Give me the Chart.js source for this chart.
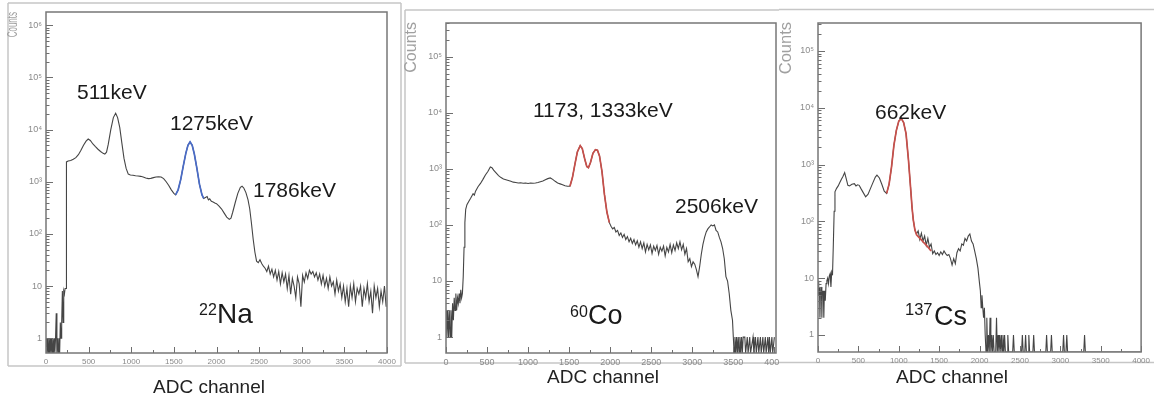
<!DOCTYPE html>
<html>
<head>
<meta charset="utf-8">
<script src="https://cdn.jsdelivr.net/npm/chart.js@4.4.0/dist/chart.umd.min.js"></script>
<style>
  html, body { margin: 0; padding: 0; background: #fff; }
  #stage { position: relative; width: 1154px; height: 399px; overflow: hidden; }
  #stage canvas { position: absolute; left: 0; top: 0; }
</style>
</head>
<body>
<div id="stage">
  <canvas id="na22" width="1154" height="399"></canvas>
  <canvas id="co60" width="1154" height="399"></canvas>
  <canvas id="cs137" width="1154" height="399"></canvas>
</div>
<script>
// 22Na spectrum (ADC channel vs counts, 0 = empty bin)
const na22Channels = [
  0, 8, 16, 24, 32, 40, 48, 56, 64, 72,
  80, 88, 96, 104, 112, 120, 128, 136, 144, 152,
  160, 168, 176, 184, 192, 200, 208, 216, 224, 236,
  240, 260, 290, 320, 350, 380, 410, 440, 470, 495,
  520, 550, 580, 610, 640, 670, 690, 710, 730, 760,
  790, 817, 840, 865, 890, 915, 940, 965, 990, 1020,
  1050, 1080, 1110, 1140, 1170, 1200, 1230, 1260, 1290, 1320,
  1350, 1380, 1410, 1440, 1470, 1500, 1520, 1550, 1580, 1610,
  1640, 1665, 1690, 1715, 1740, 1770, 1800, 1830, 1850, 1870,
  1890, 1905, 1920, 1940, 1960, 1980, 2000, 2030, 2060, 2090,
  2120, 2150, 2170, 2190, 2220, 2250, 2280, 2300, 2320, 2345,
  2370, 2390, 2410, 2430, 2450, 2470, 2490, 2510, 2530, 2550,
  2570, 2590, 2610, 2630, 2650, 2670, 2690, 2710, 2730, 2750,
  2770, 2790, 2810, 2830, 2850, 2870, 2890, 2910, 2930, 2950,
  2970, 2990, 3010, 3030, 3050, 3070, 3090, 3110, 3130, 3150,
  3170, 3190, 3210, 3230, 3250, 3270, 3290, 3310, 3330, 3350,
  3370, 3390, 3410, 3430, 3450, 3470, 3490, 3510, 3530, 3550,
  3570, 3590, 3610, 3630, 3650, 3670, 3690, 3710, 3730, 3750,
  3770, 3790, 3810, 3830, 3850, 3870, 3890, 3910, 3930, 3950,
  3970, 3990
];
const na22Counts = [
  1, 0, 1, 0, 1, 0, 1, 0, 1, 0,
  1, 0, 1, 0, 1, 3, 0, 1, 0, 1,
  0, 2, 1, 2, 8, 2, 8, 7, 9, 9,
  2400, 2500, 2550, 2700, 2900, 3300, 4000, 5000, 6000, 6600,
  6200, 5300, 4700, 4200, 3800, 3500, 3400, 3700, 5200, 10000,
  17000, 20500, 17000, 11000, 5500, 2800, 1800, 1400, 1350, 1330,
  1300, 1290, 1270, 1230, 1180, 1150, 1160, 1200, 1230, 1250,
  1230, 1150, 1000, 850, 700, 600, 560, 700, 1100, 2000,
  3500, 5000, 5800, 5000, 3400, 1800, 900, 560, 480, 500,
  520, 450, 470, 420, 410, 390, 380, 340, 300, 250,
  210, 190, 200, 260, 400, 600, 780, 820, 760, 620,
  450, 300, 160, 80, 45, 30, 28, 32, 27, 24,
  22, 19, 24, 17, 21, 15, 20, 13, 19, 11,
  18, 12, 17, 9, 16, 7, 14, 10, 6, 15,
  11, 4, 16, 12, 18, 14, 20, 17, 19, 15,
  18, 13, 17, 11, 16, 10, 14, 9, 15, 10,
  12, 7, 13, 8, 11, 6, 10, 5, 9, 4,
  10, 6, 11, 5, 9, 7, 10, 4, 9, 6,
  11, 5, 8, 3, 10, 6, 9, 4, 8, 5,
  10, 4
];
const na22FitChannels = [1520, 1550, 1580, 1610, 1640, 1665, 1690, 1715, 1740, 1770, 1800, 1830, 1850];
const na22FitCounts = [560, 700, 1100, 2000, 3500, 5000, 5800, 5000, 3400, 1800, 900, 560, 480];

// 60Co spectrum
const co60Channels = [
  0, 10, 20, 30, 40, 50, 60, 70, 80, 90,
  100, 110, 120, 130, 140, 150, 160, 170, 180, 190,
  200, 210, 220, 230, 240, 255, 275, 300, 330, 345,
  360, 390, 420, 450, 480, 510, 540, 560, 580, 610,
  640, 670, 700, 730, 760, 790, 820, 850, 880, 910,
  940, 970, 1000, 1030, 1060, 1090, 1120, 1150, 1180, 1210,
  1240, 1270, 1300, 1330, 1360, 1390, 1420, 1450, 1480, 1510,
  1540, 1570, 1600, 1635, 1660, 1690, 1715, 1735, 1760, 1790,
  1820, 1845, 1870, 1900, 1930, 1960, 1990, 2010, 2030, 2050,
  2070, 2090, 2110, 2130, 2150, 2170, 2190, 2210, 2230, 2250,
  2270, 2290, 2310, 2330, 2350, 2370, 2390, 2410, 2430, 2450,
  2470, 2490, 2510, 2530, 2550, 2570, 2590, 2610, 2630, 2650,
  2670, 2690, 2710, 2730, 2750, 2770, 2790, 2810, 2830, 2850,
  2870, 2890, 2910, 2930, 2950, 2970, 2990, 3010, 3030, 3050,
  3070, 3090, 3110, 3130, 3150, 3170, 3190, 3210, 3230, 3250,
  3270, 3290, 3310, 3330, 3350, 3370, 3390, 3410, 3430, 3450,
  3470, 3490, 3500, 3510, 3520, 3530, 3540, 3550, 3560, 3570,
  3580, 3590, 3600, 3610, 3620, 3640, 3650, 3670, 3680, 3700,
  3710, 3740, 3750, 3770, 3780, 3800, 3810, 3830, 3840, 3860,
  3870, 3890, 3900, 3920, 3930, 3940, 3950, 3970, 3980, 4000
];
const co60Counts = [
  3, 1, 3, 1, 3, 1, 3, 1, 4, 2,
  5, 3, 6, 3, 5, 4, 6, 4, 7, 5,
  6, 12, 40, 110, 190, 230, 260, 300, 360, 340,
  400, 480, 550, 650, 780, 900, 1080, 1050, 950, 850,
  760, 700, 660, 640, 620, 600, 580, 570, 560, 565,
  555, 560, 550, 560, 555, 560, 570, 590, 610, 640,
  670, 690, 650, 600, 560, 540, 520, 500, 490, 490,
  700, 1200, 2000, 2600, 2300, 1500, 1100, 1050, 1300, 1900,
  2200, 2150, 1700, 900, 350, 170, 110, 95, 85, 90,
  75, 80, 65, 72, 60, 68, 55, 62, 50, 58,
  47, 55, 44, 52, 40, 50, 38, 48, 33, 45,
  36, 44, 31, 42, 35, 43, 30, 40, 34, 42,
  28, 40, 33, 45, 32, 44, 35, 48, 38, 50,
  36, 45, 30, 38, 22, 25, 18, 22, 20, 16,
  12, 18, 30, 45, 60, 75, 85, 92, 100, 96,
  100, 80, 75, 60, 50, 38, 25, 12, 10, 6,
  3, 2, 1, 0, 1, 0, 1, 0, 1, 0,
  1, 0, 1, 0, 1, 1, 0, 1, 0, 1,
  0, 1, 0, 1, 0, 1, 0, 1, 0, 1,
  0, 1, 0, 1, 0, 1, 0, 1, 0, 1
];
const co60FitChannels = [1510, 1540, 1570, 1600, 1635, 1660, 1690, 1715, 1735, 1760, 1790, 1820, 1845, 1870, 1900, 1930, 1960, 1990];
const co60FitCounts = [490, 700, 1200, 2000, 2600, 2300, 1500, 1100, 1050, 1300, 1900, 2200, 2150, 1700, 900, 350, 170, 110];

// 137Cs spectrum
const cs137Channels = [
  0, 6, 12, 18, 24, 30, 36, 42, 48, 54,
  60, 66, 72, 78, 84, 90, 100, 110, 120, 130,
  140, 150, 160, 170, 180, 190, 200, 210, 230, 250,
  270, 290, 310, 330, 350, 370, 390, 420, 450, 470,
  490, 510, 530, 560, 590, 620, 650, 680, 710, 730,
  760, 790, 820, 850, 880, 910, 940, 970, 1000, 1030,
  1060, 1090, 1120, 1150, 1165, 1180, 1200, 1220, 1240, 1260,
  1280, 1300, 1320, 1340, 1360, 1380, 1400, 1420, 1440, 1460,
  1480, 1500, 1520, 1540, 1560, 1580, 1600, 1620, 1640, 1660,
  1680, 1700, 1720, 1740, 1760, 1780, 1800, 1820, 1840, 1860,
  1880, 1900, 1920, 1940, 1960, 1980, 2000, 2010, 2020, 2030,
  2040, 2050, 2060, 2070, 2080, 2090, 2100, 2110, 2120, 2130,
  2140, 2150, 2160, 2170, 2180, 2200, 2210, 2220, 2230, 2240,
  2250, 2260, 2270, 2280, 2290, 2300, 2310, 2320, 2340, 2350,
  2360, 2410, 2420, 2430, 2520, 2530, 2540, 2560, 2570, 2580,
  2600, 2610, 2620, 2660, 2670, 2680, 2820, 2830, 2840, 2880,
  2890, 2900, 3030, 3040, 3050, 3070, 3080, 3090, 3290, 3300,
  3310, 4000
];
const cs137Counts = [
  7, 9, 5, 7, 2, 6, 5, 7, 2, 6,
  5, 6, 2, 5, 6, 4, 8, 9, 10, 8,
  11, 12, 7, 13, 12, 40, 150, 330, 380, 420,
  480, 550, 620, 720, 560, 430, 420, 450, 460, 420,
  440, 430, 380, 320, 270, 300, 380, 480, 600, 650,
  580, 450, 340, 310, 450, 900, 2200, 4000, 5800, 6500,
  5500, 3500, 1200, 330, 170, 105, 70, 60, 68, 48,
  62, 45, 55, 38, 50, 35, 40, 27, 30, 26,
  28, 25, 29, 26, 30, 27, 25, 26, 22, 17,
  22, 18, 28, 33, 30, 40, 38, 50, 45, 55,
  60, 45, 40, 30, 22, 15, 8, 6, 3, 5,
  3, 2, 3, 1, 0, 2, 0, 1, 0, 2,
  0, 1, 0, 1, 0, 0, 2, 0, 1, 0,
  1, 0, 1, 0, 1, 0, 1, 0, 0, 1,
  0, 0, 1, 0, 0, 1, 0, 0, 1, 0,
  0, 1, 0, 0, 1, 0, 0, 1, 0, 0,
  1, 0, 0, 1, 0, 0, 1, 0, 0, 1,
  0, 0
];
const cs137FitChannels = [850, 880, 910, 940, 970, 1000, 1030, 1060, 1090, 1120, 1150, 1165, 1180, 1200, 1220, 1250, 1280, 1310, 1340, 1370, 1400];
const cs137FitCounts = [310, 450, 900, 2200, 4000, 5800, 6500, 5500, 3500, 1200, 330, 170, 105, 70, 58, 52, 47, 42, 38, 34, 30];

const decadeLabels = ["1", "10", "10²", "10³", "10⁴", "10⁵", "10⁶"];
const xTickValues = [0, 500, 1000, 1500, 2000, 2500, 3000, 3500, 4000];
const xMinorStep = 250;

Chart.defaults.font.family = "'Liberation Sans', Arial, sans-serif";

function toPoints(channels, counts, floor) {
  // empty bins sit on the bottom of the log axis
  return channels.map((ch, i) => ({ x: ch, y: counts[i] > 0 ? counts[i] : floor }));
}

function isDecade(value) {
  const e = Math.log10(value);
  return Math.abs(e - Math.round(e)) < 1e-9;
}

function logTicks(scale) {
  const ticks = [];
  for (let exp = 0; exp < decadeLabels.length; exp++) {
    for (let m = 1; m <= 9; m++) {
      const v = m * Math.pow(10, exp);
      if (v >= scale.min && v <= scale.max) {
        ticks.push({ value: v });
      }
    }
  }
  scale.ticks = ticks;
}

function drawText(ctx, item) {
  ctx.save();
  ctx.fillStyle = item.color || "#1a1a1a";
  ctx.font = `${item.size}px 'Liberation Sans', Arial, sans-serif`;
  ctx.textBaseline = item.baseline || "alphabetic";
  ctx.textAlign = item.align || "left";
  ctx.translate(item.x, item.y);
  if (item.rotate) {
    ctx.rotate(-Math.PI / 2);
  }
  if (item.stretch) {
    ctx.scale(item.stretch, 1);
  }
  ctx.fillText(item.text, 0, 0);
  ctx.restore();
}

function panelDecor(panel) {
  return {
    id: "panelDecor",
    beforeDraw(chart) {
      const ctx = chart.ctx;
      ctx.save();
      if (panel.cover) {
        ctx.fillStyle = "#fff";
        ctx.fillRect(panel.cover[0], panel.cover[1], panel.cover[2], panel.cover[3]);
      }
      ctx.strokeStyle = "#c6c6c6";
      ctx.lineWidth = 1.5;
      ctx.beginPath();
      panel.frame.forEach(([x1, y1, x2, y2]) => {
        ctx.moveTo(x1, y1);
        ctx.lineTo(x2, y2);
      });
      ctx.stroke();
      ctx.restore();
    },
    afterDraw(chart) {
      const ctx = chart.ctx;
      const area = chart.chartArea;
      const xScale = chart.scales.x;
      const yScale = chart.scales.y;

      ctx.save();
      ctx.strokeStyle = "#6e6e6e";
      ctx.lineWidth = 1;
      ctx.beginPath();
      yScale.ticks.forEach((t) => {
        const y = Math.round(yScale.getPixelForValue(t.value)) + 0.5;
        const len = isDecade(t.value) ? 7 : 3.5;
        ctx.moveTo(area.left, y);
        ctx.lineTo(area.left + len, y);
      });
      for (let v = 0; v <= 4000; v += xMinorStep) {
        const x = Math.round(xScale.getPixelForValue(v)) + 0.5;
        const len = v % 500 === 0 ? 6 : 3;
        ctx.moveTo(x, area.bottom);
        ctx.lineTo(x, area.bottom - len);
      }
      ctx.stroke();

      ctx.strokeStyle = "#777";
      ctx.lineWidth = 1.5;
      ctx.strokeRect(area.left, area.top, area.right - area.left, area.bottom - area.top);
      ctx.restore();

      panel.texts.forEach((item) => drawText(ctx, item));
    },
  };
}

function makeChart(canvasId, panel) {
  return new Chart(document.getElementById(canvasId), {
    type: "line",
    data: {
      datasets: [
        {
          data: toPoints(panel.fitChannels, panel.fitCounts, panel.yMin),
          borderColor: panel.fitColor,
          borderWidth: 1.7,
          pointRadius: 0,
          order: 0,
        },
        {
          data: toPoints(panel.channels, panel.counts, panel.yMin),
          borderColor: "#454545",
          borderWidth: 1.1,
          pointRadius: 0,
          order: 1,
        },
      ],
    },
    options: {
      responsive: false,
      animation: false,
      events: [],
      layout: { padding: panel.padding },
      plugins: {
        legend: { display: false },
        tooltip: { enabled: false },
      },
      scales: {
        x: {
          type: "linear",
          min: 0,
          max: panel.xMax,
          afterBuildTicks: (scale) => { scale.ticks = xTickValues.map((v) => ({ value: v })); },
          afterFit: (scale) => { scale.height = 20; },
          grid: { display: false, drawTicks: false },
          border: { display: false },
          ticks: {
            autoSkip: false,
            maxRotation: 0,
            padding: 4,
            color: "#8a8a8a",
            font: { size: panel.xTickSize },
            callback: (v) => String(v),
          },
        },
        y: {
          type: "logarithmic",
          min: panel.yMin,
          max: panel.yMax,
          afterBuildTicks: logTicks,
          afterFit: (scale) => { scale.width = 30; },
          grid: { display: false, drawTicks: false },
          border: { display: false },
          ticks: {
            autoSkip: false,
            padding: 4,
            color: "#8a8a8a",
            font: { size: 9 },
            callback: (v) => (isDecade(v) ? decadeLabels[Math.round(Math.log10(v))] : ""),
          },
        },
      },
    },
    plugins: [panelDecor(panel)],
  });
}

makeChart("na22", {
  channels: na22Channels,
  counts: na22Counts,
  fitChannels: na22FitChannels,
  fitCounts: na22FitCounts,
  fitColor: "#4a6cc8",
  xMax: 4000,
  yMin: 0.52,
  yMax: 1.8e6,
  xTickSize: 8,
  padding: { left: 16, top: 12, right: 767, bottom: 26 },
  frame: [[8, 3, 401, 3], [8, 3, 8, 366], [401, 3, 401, 366], [8, 366, 401, 366]],
  texts: [
    { text: "Counts", x: 13, y: 12, size: 14, color: "#a0a0a0", rotate: true, align: "right", baseline: "middle", stretch: 0.57 },
    { text: "511keV", x: 77, y: 99, size: 21 },
    { text: "1275keV", x: 170, y: 130, size: 21 },
    { text: "1786keV", x: 253, y: 197, size: 21 },
    { text: "22", x: 199, y: 315, size: 16 },
    { text: "Na", x: 217, y: 323, size: 28 },
    { text: "ADC channel", x: 209, y: 393, size: 19, align: "center", color: "#222" },
  ],
});

makeChart("co60", {
  channels: co60Channels,
  counts: co60Counts,
  fitChannels: co60FitChannels,
  fitCounts: co60FitCounts,
  fitColor: "#c8504b",
  xMax: 4020,
  yMin: 0.52,
  yMax: 4e5,
  xTickSize: 9,
  padding: { left: 416, top: 23, right: 378, bottom: 26 },
  frame: [[405, 10, 787, 10], [405, 10, 405, 363], [405, 363, 787, 363]],
  texts: [
    { text: "Counts", x: 412, y: 22, size: 16, color: "#a0a0a0", rotate: true, align: "right", baseline: "middle" },
    { text: "1173, 1333keV", x: 533, y: 117, size: 21 },
    { text: "2506keV", x: 675, y: 213, size: 21 },
    { text: "60", x: 570, y: 317, size: 16 },
    { text: "Co", x: 588, y: 324, size: 27 },
    { text: "ADC channel", x: 603, y: 383, size: 19, align: "center", color: "#222" },
  ],
});

makeChart("cs137", {
  channels: cs137Channels,
  counts: cs137Counts,
  fitChannels: cs137FitChannels,
  fitCounts: cs137FitCounts,
  fitColor: "#c8504b",
  xMax: 4000,
  yMin: 0.5,
  yMax: 3.1e5,
  xTickSize: 8,
  padding: { left: 788, top: 23, right: 9, bottom: 27 },
  cover: [779, 0, 375, 399],
  frame: [[779, 9.5, 1154, 9.5], [779, 362.5, 1154, 362.5]],
  texts: [
    { text: "Counts", x: 786, y: 22, size: 16.5, color: "#a0a0a0", rotate: true, align: "right", baseline: "middle" },
    { text: "662keV", x: 875, y: 119, size: 21 },
    { text: "137", x: 905, y: 315, size: 16.5 },
    { text: "Cs", x: 934, y: 325, size: 27 },
    { text: "ADC channel", x: 952, y: 383, size: 19, align: "center", color: "#222" },
  ],
});
</script>
</body>
</html>
